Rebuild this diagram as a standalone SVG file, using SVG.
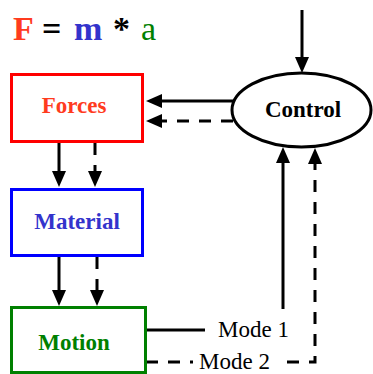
<svg xmlns="http://www.w3.org/2000/svg" width="373" height="374" viewBox="0 0 373 374">
<defs>
<marker id="ah" markerUnits="userSpaceOnUse" markerWidth="16" markerHeight="14" refX="10" refY="7" orient="auto">
<path d="M0,0 L16,7 L0,14 z" fill="#000"/>
</marker>
</defs>
<rect width="373" height="374" fill="#fff"/>
<g id="title" font-family="Liberation Serif" font-size="34" font-weight="bold">
<text x="13" y="40" fill="#FF3B1E">F</text>
<text x="42" y="40" fill="#000">=</text>
<text x="74" y="40" fill="#3333CC">m</text>
<text x="113" y="40" fill="#000">*</text>
<text x="141" y="40" fill="#008000" font-weight="normal">a</text>
</g>
<g id="connectors" stroke="#000" stroke-width="3" fill="none">
<g marker-end="url(#ah)">
<line x1="302" y1="10" x2="302" y2="67"/>
<line x1="233" y1="101" x2="152" y2="101"/>
<line x1="59" y1="143" x2="59" y2="181"/>
<line x1="59" y1="257" x2="59" y2="300"/>
<line x1="283" y1="309" x2="283" y2="153"/>
</g>
<g stroke-dasharray="12 10">
<line x1="233" y1="121" x2="152" y2="121" marker-end="url(#ah)"/>
<line x1="95" y1="143" x2="95" y2="181" marker-end="url(#ah)"/>
<line x1="97" y1="257" x2="97" y2="300" marker-end="url(#ah)"/>
<line x1="146" y1="362" x2="193" y2="362"/>
<polyline points="287,362 315,362 315,154" marker-end="url(#ah)"/>
</g>
<line x1="146" y1="330" x2="205" y2="330"/>
<g font-family="Liberation Serif" font-size="23" fill="#000" stroke="none">
<text x="218" y="337">Mode 1</text>
<text x="199" y="369">Mode 2</text>
</g>
</g>
<g id="nodes" font-family="Liberation Serif" font-size="23" font-weight="bold" text-anchor="middle" stroke-width="3">
<g id="forces">
<rect x="11.5" y="74.5" width="131" height="67" fill="#fff" stroke="#FF0000"/>
<text x="74" y="113" fill="#FF3B1E">Forces</text>
</g>
<g id="material">
<rect x="11.5" y="189.5" width="131" height="66" fill="#fff" stroke="#0000FF"/>
<text x="77" y="229" fill="#3333CC">Material</text>
</g>
<g id="motion">
<rect x="11.5" y="307.5" width="134" height="65" fill="#fff" stroke="#008000"/>
<text x="74" y="350" fill="#008000">Motion</text>
</g>
<g id="control">
<ellipse cx="301.5" cy="110" rx="69.5" ry="37" fill="#fff" stroke="#000"/>
<text x="303" y="117" fill="#000">Control</text>
</g>
</g>
</svg>
